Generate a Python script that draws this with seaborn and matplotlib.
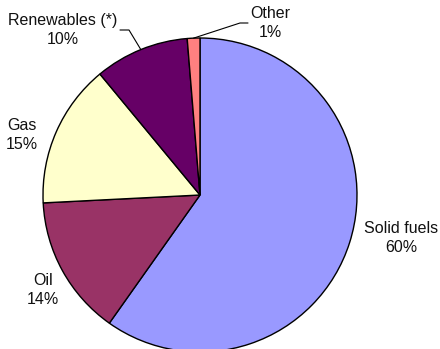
import numpy as np
import matplotlib
matplotlib.use('Agg')
import matplotlib.pyplot as plt
import seaborn as sns

# Data
sources = ['Solid fuels', 'Oil', 'Gas', 'Renewables (*)', 'Other']
shares = [59.8, 14.4, 14.8, 9.7, 1.3]
pct_labels = ['60%', '14%', '15%', '10%', '1%']
colors = ['#9999FF', '#993366', '#FFFFCC', '#660066', '#FF8080']

sns.set_theme(style='white')
plt.rcParams['font.family'] = ['Liberation Sans', 'DejaVu Sans']

fig = plt.figure(figsize=(4.4, 3.49), dpi=100)
ax = fig.add_axes([0, 0, 1, 1])

wedges, _ = ax.pie(
    shares,
    colors=colors,
    startangle=90,
    counterclock=False,
    radius=1,
    wedgeprops=dict(edgecolor='black', linewidth=1),
)

# pixel -> data helper (pie centre at (200, 195) px, radius 157 px)
def px(x, y):
    return ((x - 200) / 157, (195 - y) / 157)

ax.set_xlim(px(0, 0)[0], px(440, 0)[0])
ax.set_ylim(px(0, 349)[1], px(0, 0)[1])
ax.set_aspect('equal')
ax.axis('off')

# label block centres (pixels)
label_pos = [(401, 238), (43, 290), (22, 135), (63, 30), (270, 23)]
for name, pct, (lx, ly) in zip(sources, pct_labels, label_pos):
    x, y = px(lx, ly)
    ax.text(x, y, f'{name}\n{pct}', ha='center', va='center',
            fontsize=11.5, color='#111111', linespacing=1.35)

# leader lines for the small top slices
leaders = {3: [(120, 30), (129, 30)], 4: [(248, 23), (240, 23)]}
for i, pts in leaders.items():
    w = wedges[i]
    mid = np.deg2rad((w.theta1 + w.theta2) / 2)
    ex, ey = np.cos(mid), np.sin(mid)
    xs = [px(*p)[0] for p in pts] + [ex]
    ys = [px(*p)[1] for p in pts] + [ey]
    ax.plot(xs, ys, color='black', linewidth=0.8)

fig.savefig('out.png', dpi=100, facecolor='white')
